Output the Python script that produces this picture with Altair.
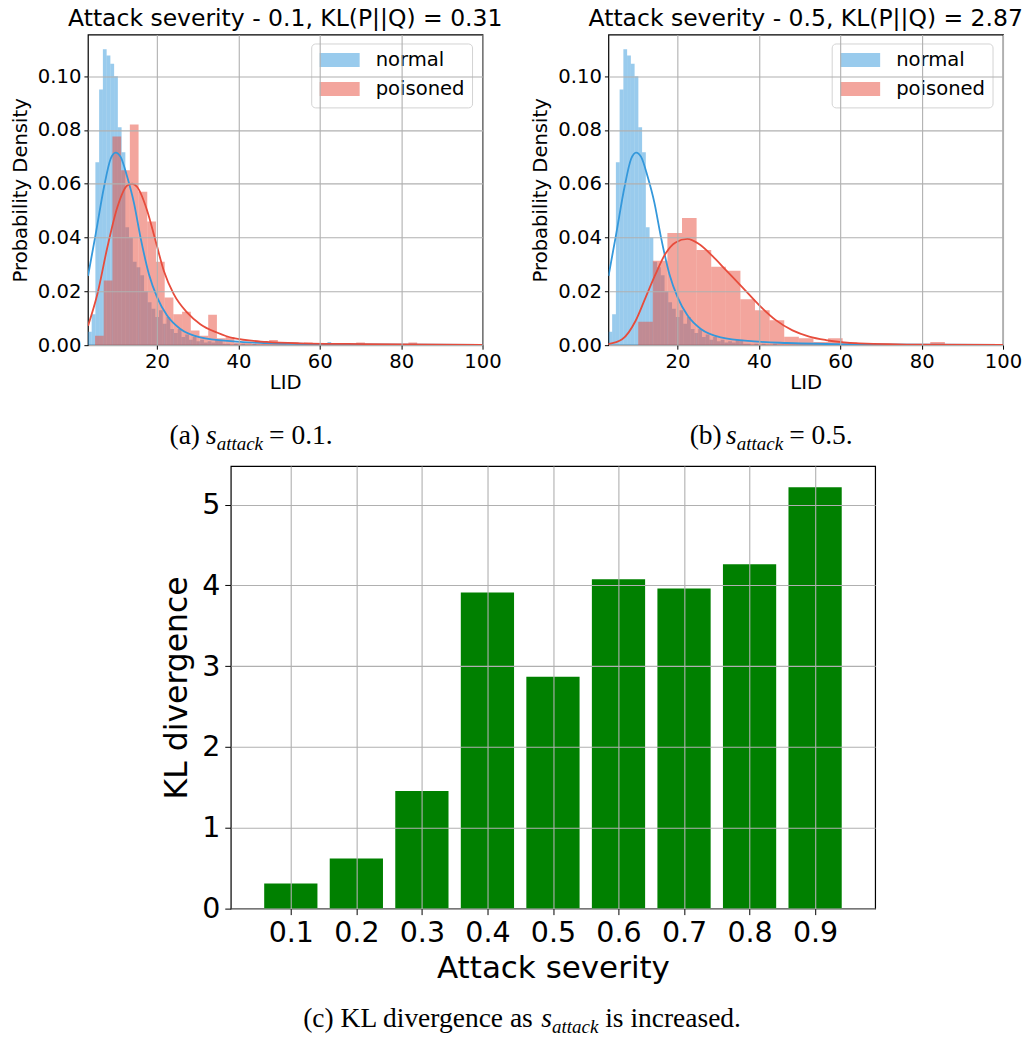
import altair as alt
import pandas as pd

# ---------------- data ----------------
series_names = ["normal", "poisoned"]
series_colors = ["#3498db", "#e74c3c"]

lid_domain = [3.0, 100.0]
lid_ticks = [20, 40, 60, 80, 100]
density_ticks = [0.0, 0.02, 0.04, 0.06, 0.08, 0.10]
density_max = 0.1155

# normal LID histogram (identical in both panels)
normal_bin_start = 3.0
normal_bin_width = 0.92
normal_density = [
    0.005, 0.0115, 0.068, 0.095, 0.110, 0.1077, 0.1046, 0.100, 0.081, 0.0717,
    0.0438, 0.040, 0.031, 0.029, 0.026, 0.020, 0.016, 0.0135, 0.0105, 0.013,
    0.008, 0.0105, 0.006, 0.0045, 0.006, 0.003, 0.004, 0.002, 0.003, 0.0015,
    0.002, 0.001, 0.0015, 0.001, 0.002, 0.002, 0.0005, 0.0005, 0.0, 0.0005,
    0.0, 0.0005, 0.0, 0.0, 0.0005, 0.0, 0.0, 0.0, 0.0, 0.0,
    0.0, 0.0, 0.0, 0.0, 0.0, 0.0, 0.0, 0.0, 0.0, 0.0,
    0.0, 0.0, 0.0, 0.0, 0.0012,
]

# poisoned LID histogram, attack severity 0.1
poisoned_a_bin_start = 4.75
poisoned_a_bin_width = 2.14
poisoned_a_density = [
    0.0035, 0.024, 0.0776, 0.065, 0.082, 0.057, 0.046, 0.031, 0.0177, 0.0115,
    0.0124, 0.0055, 0.0035, 0.0113, 0.0026, 0.003, 0.001, 0.0008, 0.0006, 0.0004,
    0.0019, 0.0004, 0.0003, 0.0005, 0.001, 0.0003, 0.0, 0.0, 0.0003, 0.0,
    0.001, 0.0, 0.0, 0.0, 0.0, 0.0, 0.001, 0.0, 0.0, 0.0,
    0.0, 0.0, 0.0, 0.0, 0.0003,
]

# poisoned LID histogram, attack severity 0.5
poisoned_b_bin_start = 10.32
poisoned_b_bin_width = 3.59
poisoned_b_density = [
    0.0087, 0.0314, 0.0417, 0.0473, 0.0354, 0.0292, 0.0277, 0.0171, 0.013, 0.0093,
    0.0031, 0.0026, 0.0012, 0.0026, 0.001, 0.0004, 0.0003, 0.0003, 0.0003, 0.0004,
    0.0012, 0.0003, 0.0003, 0.0003, 0.0004,
]

# density curves
normal_kde_x = [3.04, 4.92, 6.96, 8.59, 9.82, 11.04, 12.67, 14.30, 15.94, 17.98,
                20.02, 22.46, 25.73, 30.62, 38.78, 46.94, 63.26, 100.0]
normal_kde_y = [0.0258, 0.0414, 0.0588, 0.0693, 0.0716, 0.0700, 0.0625, 0.053, 0.040, 0.0265,
                0.0178, 0.011, 0.006, 0.0029, 0.0014, 0.0008, 0.0003, 0.0001]

poisoned_a_kde_x = [3.04, 5.33, 7.78, 10.23, 12.67, 13.90, 15.12, 17.57, 19.61, 21.65,
                    24.10, 27.36, 30.62, 34.70, 38.78, 46.94, 55.1, 71.42, 100.0]
poisoned_a_kde_y = [0.0072, 0.019, 0.0364, 0.0513, 0.0594, 0.060, 0.0588, 0.050, 0.0389, 0.0277,
                    0.019, 0.0122, 0.0078, 0.0047, 0.0026, 0.0012, 0.0007, 0.0004, 0.0001]

poisoned_b_kde_x = [2.85, 6.38, 9.66, 12.13, 14.59, 17.05, 19.51, 22.39, 25.26, 28.55,
                    31.83, 35.94, 40.04, 44.15, 48.25, 52.36, 56.46, 64.67, 81.09, 100.0]
poisoned_b_kde_y = [0.0004, 0.0022, 0.009, 0.0177, 0.0264, 0.0341, 0.0382, 0.0395, 0.0376, 0.0332,
                    0.0280, 0.0215, 0.0149, 0.0093, 0.0055, 0.0032, 0.0019, 0.0007, 0.0002, 0.0001]

# KL divergence vs attack severity
severity = [0.1, 0.2, 0.3, 0.4, 0.5, 0.6, 0.7, 0.8, 0.9]
kl_divergence = [0.31, 0.62, 1.455, 3.91, 2.87, 4.075, 3.96, 4.26, 5.215]
kl_ticks = [0, 1, 2, 3, 4, 5]
kl_max = 5.476

titles = ["Attack severity - 0.1, KL(P||Q) = 0.31",
          "Attack severity - 0.5, KL(P||Q) = 2.87"]

# ---------------- helpers ----------------
FONT = "DejaVu Sans"
SERIF = "Liberation Serif"
GRID = "#b0b0b0"
CAP = 27.5    # caption font size
SUB = 19      # subscript font size
ONE = pd.DataFrame({"k": [0]})


def hist_df(start, width, dens):
    n = len(dens)
    return pd.DataFrame({
        "lo": [start + i * width for i in range(n)],
        "hi": [start + (i + 1) * width for i in range(n)],
        "density": dens,
    })


def axis_common(size, tsize=None, **kw):
    return dict(labelFont=FONT, titleFont=FONT, labelFontSize=size,
                titleFontSize=tsize if tsize else size,
                labelColor="black", titleColor="black", tickColor="black",
                titleFontWeight="normal", domain=False, grid=True, gridColor=GRID,
                gridWidth=1.1, labelFlush=False, labelOverlap=False, zindex=1, **kw)


def text_at(txt, x, y, size, font=FONT, italic=False, align="left", baseline="alphabetic"):
    return alt.Chart(ONE).mark_text(
        text=txt, font=font, fontSize=size, align=align, baseline=baseline,
        fontStyle="italic" if italic else "normal", color="black",
    ).encode(x=alt.value(x), y=alt.value(y))


def caption(runs, y):
    layers = []
    for txt, x, sub, italic in runs:
        layers.append(text_at(txt, x, y + (6 if sub else 0), SUB if sub else CAP,
                              font=SERIF, italic=italic))
    return layers


def hist_panel(p_start, p_width, p_dens, p_kx, p_ky, title, cap_runs):
    W, H = 395, 311
    xs = alt.Scale(domain=lid_domain, nice=False, zero=False)
    ys = alt.Scale(domain=[0, density_max], nice=False, zero=True)
    xa = alt.Axis(values=lid_ticks, title="LID", tickSize=4, labelPadding=3, titlePadding=3,
                  **axis_common(19.6))
    ya = alt.Axis(values=density_ticks, format=".2f", title="Probability Density", tickSize=4,
                  labelPadding=3, titlePadding=7, **axis_common(19.6))

    def bars(df, color):
        return alt.Chart(df).mark_rect(color=color, opacity=0.5, clip=True).encode(
            x=alt.X("lo:Q", scale=xs, axis=xa),
            x2="hi:Q",
            y=alt.Y("density:Q", scale=ys, axis=ya),
            y2=alt.datum(0),
        )

    def curve(xv, yv, color):
        return alt.Chart(pd.DataFrame({"lo": xv, "density": yv})).mark_line(
            color=color, strokeWidth=1.8, interpolate="monotone", clip=True
        ).encode(x=alt.X("lo:Q", scale=xs, axis=xa), y=alt.Y("density:Q", scale=ys, axis=ya))

    layers = [
        bars(hist_df(normal_bin_start, normal_bin_width, normal_density), series_colors[0]),
        bars(hist_df(p_start, p_width, p_dens), series_colors[1]),
        curve(normal_kde_x, normal_kde_y, series_colors[0]),
        curve(p_kx, p_ky, series_colors[1]),
        # legend box
        alt.Chart(ONE).mark_rect(fill="white", stroke="#cccccc", strokeWidth=1, cornerRadius=4,
                                 opacity=0.85).encode(
            x=alt.value(224), x2=alt.value(385), y=alt.value(9.5), y2=alt.value(73.5)),
    ]
    for i, name in enumerate(series_names):
        top = 18.5 + 29 * i
        layers.append(alt.Chart(ONE).mark_rect(color=series_colors[i], opacity=0.5).encode(
            x=alt.value(232), x2=alt.value(272), y=alt.value(top), y2=alt.value(top + 14)))
        layers.append(text_at(name, 288, top + 7.5, 19.6, baseline="middle"))
    layers += caption(cap_runs, H + 99)

    return alt.layer(*layers).properties(
        width=W, height=H,
        title=alt.TitleParams(text=title, font=FONT, fontSize=23.5, fontWeight="normal",
                              anchor="middle", frame="group", offset=4, color="black"),
    )


cap_a = [("(a)", 81.7, False, False), ("s", 118.2, False, True), ("attack", 128.9, True, True),
         ("= 0.1.", 181.3, False, False)]
cap_b = [("(b)", 81.3, False, False), ("s", 117.8, False, True), ("attack", 128.5, True, True),
         ("= 0.5.", 180.9, False, False)]

panel_a = hist_panel(poisoned_a_bin_start, poisoned_a_bin_width, poisoned_a_density,
                     poisoned_a_kde_x, poisoned_a_kde_y, titles[0], cap_a)
panel_b = hist_panel(poisoned_b_bin_start, poisoned_b_bin_width, poisoned_b_density,
                     poisoned_b_kde_x, poisoned_b_kde_y, titles[1], cap_b)

# ---------------- KL divergence panel ----------------
kl_df = pd.DataFrame({"severity": severity, "kl": kl_divergence})
kl_bars = alt.Chart(kl_df).mark_bar(color="#008000", size=53.3).encode(
    x=alt.X("severity:Q", scale=alt.Scale(domain=[0.016, 0.984], nice=False, zero=False),
            axis=alt.Axis(values=severity, format=".1f", title="Attack severity", tickSize=6,
                          labelPadding=4, titlePadding=6, **axis_common(28.5, 31))),
    y=alt.Y("kl:Q", scale=alt.Scale(domain=[0, kl_max], nice=False),
            axis=alt.Axis(values=kl_ticks, format="d", title="KL divergence", tickSize=6,
                          labelPadding=5, titlePadding=8, **axis_common(28.5, 31.5))),
)
cap_c = [("(c) KL divergence as", 72.5, False, False), ("s", 310.8, False, True),
         ("attack", 321.5, True, True), ("is increased.", 374.8, False, False)]
panel_c = alt.layer(kl_bars, *caption(cap_c, 561)).properties(width=645, height=443)

spacer = alt.Chart(ONE).mark_text(text="").encode(x=alt.value(0), y=alt.value(0)).properties(
    width=73, height=10, view=alt.ViewBackground(strokeOpacity=0))

row1 = alt.hconcat(panel_a, panel_b, spacing=26)
row2 = alt.hconcat(spacer, panel_c, spacing=0)

chart = alt.vconcat(row1, row2, spacing=5).properties(
    padding={"left": 9, "top": 5, "right": 2, "bottom": 10},
    background="white",
).configure_view(stroke="black", strokeWidth=1.2)

chart.save("out.html", embed_options={"renderer": "svg", "actions": False})
